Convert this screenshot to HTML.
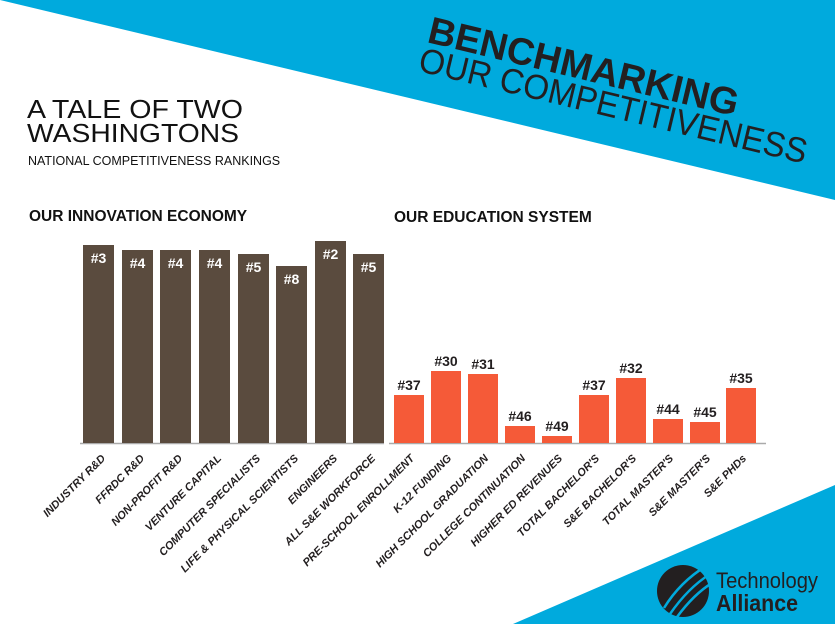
<!DOCTYPE html>
<html><head><meta charset="utf-8"><style>
body{margin:0;width:835px;height:624px;overflow:hidden;background:#fff;font-family:"Liberation Sans",sans-serif;}
</style></head><body>
<svg width="835" height="624" xmlns="http://www.w3.org/2000/svg" style="position:absolute;left:0;top:0">
<polygon points="0,0 835,0 835,200" fill="#00aadd"/>
<polygon points="835,485 835,624 513,624" fill="#00aadd"/>
<g transform="translate(426,42) rotate(13.5)" fill="#231f20">
<text x="0" y="0" font-size="38" font-weight="bold" font-family="Liberation Sans, sans-serif" textLength="318" lengthAdjust="spacingAndGlyphs">BENCHMARKING</text>
<text x="-2" y="30" font-size="35" font-family="Liberation Sans, sans-serif" textLength="398" lengthAdjust="spacingAndGlyphs">OUR COMPETITIVENESS</text>
</g>
<g font-family="Liberation Sans, sans-serif" fill="#111">
<text x="27" y="118" font-size="26" textLength="216" lengthAdjust="spacingAndGlyphs">A TALE OF TWO</text>
<text x="27" y="142" font-size="26" textLength="212" lengthAdjust="spacingAndGlyphs">WASHINGTONS</text>
<text x="28" y="165" font-size="12.5">NATIONAL COMPETITIVENESS RANKINGS</text>
<text x="29" y="221" font-size="15.5" font-weight="bold">OUR INNOVATION ECONOMY</text>
<text x="394" y="222" font-size="15.5" font-weight="bold">OUR EDUCATION SYSTEM</text>
</g>
<line x1="80" y1="443.5" x2="384" y2="443.5" stroke="#aaa" stroke-width="1.5"/>
<line x1="389" y1="443.5" x2="766" y2="443.5" stroke="#aaa" stroke-width="1.5"/>
<g fill="#5a4b3e">
<rect x="83" y="245" width="31" height="198"/>
<rect x="122" y="250" width="31" height="193"/>
<rect x="160" y="250" width="31" height="193"/>
<rect x="199" y="250" width="31" height="193"/>
<rect x="238" y="254" width="31" height="189"/>
<rect x="276" y="266" width="31" height="177"/>
<rect x="315" y="241" width="31" height="202"/>
<rect x="353" y="254" width="31" height="189"/>
</g>
<g fill="#fff" font-weight="bold" font-size="14" font-family="Liberation Sans, sans-serif" text-anchor="middle">
<text x="98.5" y="263">#3</text><text x="137.5" y="268">#4</text><text x="175.5" y="268">#4</text><text x="214.5" y="268">#4</text>
<text x="253.5" y="272">#5</text><text x="291.5" y="284">#8</text><text x="330.5" y="259">#2</text><text x="368.5" y="272">#5</text>
</g>
<g fill="#f55a38">
<rect x="394" y="395" width="30" height="48"/>
<rect x="431" y="371" width="30" height="72"/>
<rect x="468" y="374" width="30" height="69"/>
<rect x="505" y="426" width="30" height="17"/>
<rect x="542" y="436" width="30" height="7"/>
<rect x="579" y="395" width="30" height="48"/>
<rect x="616" y="378" width="30" height="65"/>
<rect x="653" y="419" width="30" height="24"/>
<rect x="690" y="422" width="30" height="21"/>
<rect x="726" y="388" width="30" height="55"/>
</g>
<g fill="#231f20" font-weight="bold" font-size="14" font-family="Liberation Sans, sans-serif" text-anchor="middle">
<text x="409" y="390">#37</text><text x="446" y="366">#30</text><text x="483" y="369">#31</text><text x="520" y="421">#46</text>
<text x="557" y="431">#49</text><text x="594" y="390">#37</text><text x="631" y="373">#32</text><text x="668" y="414">#44</text>
<text x="705" y="417">#45</text><text x="741" y="383">#35</text>
</g>
<g fill="#231f20" font-weight="bold" font-style="italic" font-size="11" font-family="Liberation Sans, sans-serif" text-anchor="end">
<text transform="translate(106,459) rotate(-45)">INDUSTRY R&amp;D</text>
<text transform="translate(145,459) rotate(-45)">FFRDC R&amp;D</text>
<text transform="translate(183,459) rotate(-45)">NON-PROFIT R&amp;D</text>
<text transform="translate(222,459) rotate(-45)">VENTURE CAPITAL</text>
<text transform="translate(261,459) rotate(-45)">COMPUTER SPECIALISTS</text>
<text transform="translate(299,459) rotate(-45)">LIFE &amp; PHYSICAL SCIENTISTS</text>
<text transform="translate(338,459) rotate(-45)">ENGINEERS</text>
<text transform="translate(376,459) rotate(-45)">ALL S&amp;E WORKFORCE</text>
<text transform="translate(415,459) rotate(-45)">PRE-SCHOOL ENROLLMENT</text>
<text transform="translate(452,459) rotate(-45)">K-12 FUNDING</text>
<text transform="translate(489,459) rotate(-45)">HIGH SCHOOL GRADUATION</text>
<text transform="translate(526,459) rotate(-45)">COLLEGE CONTINUATION</text>
<text transform="translate(563,459) rotate(-45)">HIGHER ED REVENUES</text>
<text transform="translate(600,459) rotate(-45)">TOTAL BACHELOR'S</text>
<text transform="translate(637,459) rotate(-45)">S&amp;E BACHELOR'S</text>
<text transform="translate(674,459) rotate(-45)">TOTAL MASTER'S</text>
<text transform="translate(711,459) rotate(-45)">S&amp;E MASTER'S</text>
<text transform="translate(747,459) rotate(-45)">S&amp;E PHDs</text>
</g>
<g>
<circle cx="683" cy="591" r="26" fill="#231f20"/>
<path d="M664 608 Q680 582 706 566 M670 614 Q688 588 710 574 M677 617 Q694 594 712 583" stroke="#00aadd" stroke-width="2.5" fill="none"/>
<text x="716" y="588" font-size="22" fill="#231f20" font-family="Liberation Sans, sans-serif" textLength="102" lengthAdjust="spacingAndGlyphs">Technology</text>
<text x="716" y="611" font-size="23" font-weight="bold" fill="#231f20" font-family="Liberation Sans, sans-serif" textLength="82" lengthAdjust="spacingAndGlyphs">Alliance</text>
</g>
</svg>
</body></html>
